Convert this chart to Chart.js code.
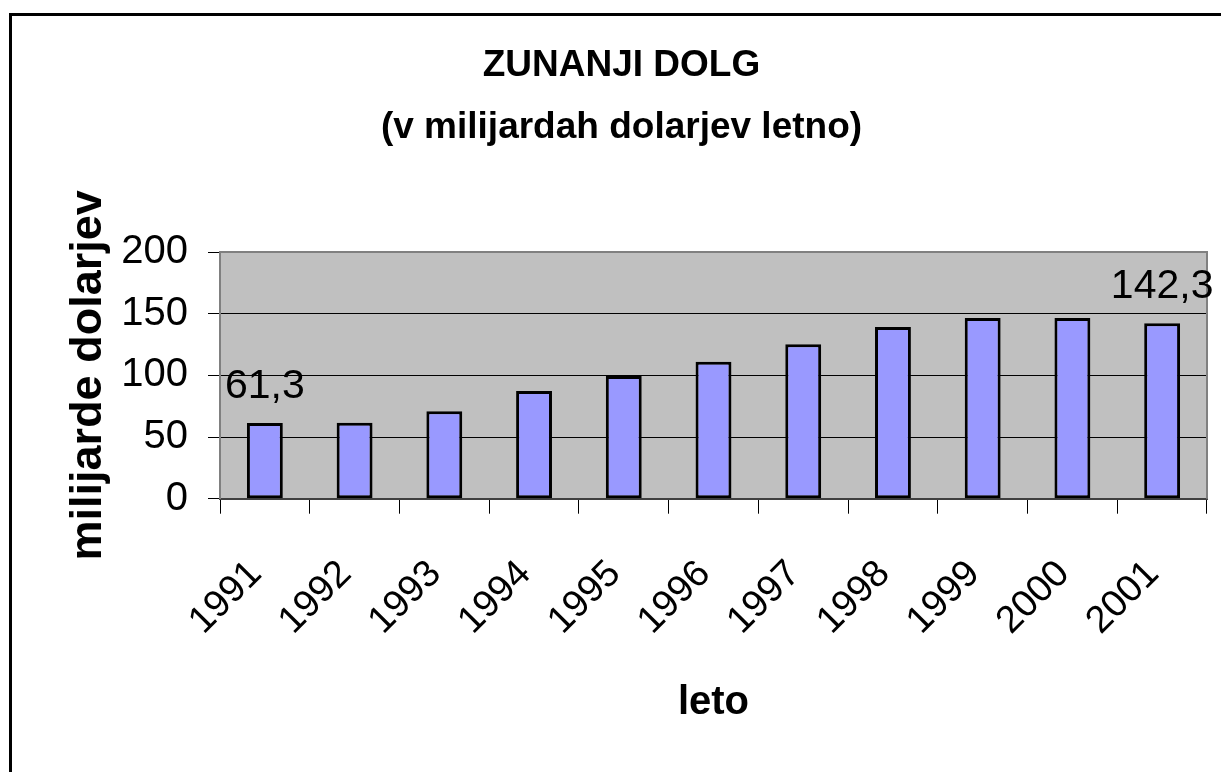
<!DOCTYPE html>
<html>
<head>
<meta charset="utf-8">
<script src="https://cdn.jsdelivr.net/npm/chart.js@4.4.1/dist/chart.umd.min.js"></script>
<style>
  html, body { margin: 0; padding: 0; background: #fff; overflow: hidden; }
  #frame { position: absolute; left: 9px; top: 13px; width: 1400px; height: 1000px; border: 3px solid #000; }
  #chart { position: absolute; left: 0; top: 0; }
</style>
</head>
<body>
<div id="frame"></div>
<canvas id="chart" width="1221" height="772"></canvas>
<script>
// podatki (odčitani s slike)
const years = ["1991", "1992", "1993", "1994", "1995", "1996", "1997", "1998", "1999", "2000", "2001"];
const debt = [61.3, 61.5, 70.9, 87.3, 99.5, 111.1, 125.2, 139.2, 146.5, 146.5, 142.3];
const labeledYears = ["1991", "2001"];
const yTicks = [0, 50, 100, 150, 200];
const titleLines = ["ZUNANJI DOLG", "(v milijardah dolarjev letno)"];
const yTitle = "milijarde dolarjev";
const xTitle = "leto";

const FONT = "'Liberation Sans', Arial, sans-serif";
const fmt = v => v.toFixed(1).replace(".", ",");

// sivo ozadje in okvir risalne površine
const plotArea = {
  id: "plotArea",
  beforeDraw(chart) {
    const { ctx, chartArea: a } = chart;
    ctx.save();
    ctx.fillStyle = "#c0c0c0";
    ctx.fillRect(a.left, a.top, a.width, a.height);
    ctx.restore();
  },
  beforeDatasetsDraw(chart) {
    const { ctx, chartArea: a } = chart;
    ctx.save();
    ctx.strokeStyle = "#808080";
    ctx.lineWidth = 2;
    ctx.beginPath();
    ctx.moveTo(a.left, a.top);
    ctx.lineTo(a.right, a.top);
    ctx.lineTo(a.right, a.bottom);
    ctx.stroke();
    ctx.restore();
  }
};

// oznake vrednosti nad prvim in zadnjim stolpcem
const valueLabels = {
  id: "valueLabels",
  afterDatasetsDraw(chart) {
    const { ctx } = chart;
    const meta = chart.getDatasetMeta(0);
    ctx.save();
    ctx.font = "41px " + FONT;
    ctx.fillStyle = "#000";
    ctx.textAlign = "center";
    ctx.textBaseline = "alphabetic";
    years.forEach((y, i) => {
      if (!labeledYears.includes(y)) return;
      const bar = meta.data[i];
      ctx.fillText(fmt(debt[i]), bar.x, bar.y - 25);
    });
    ctx.restore();
  }
};

new Chart(document.getElementById("chart"), {
  type: "bar",
  data: {
    labels: years,
    datasets: [{
      data: debt,
      backgroundColor: "#9999ff",
      borderColor: "#000",
      borderWidth: 3,
      borderSkipped: false,
      barPercentage: 0.4,
      categoryPercentage: 1
    }]
  },
  options: {
    responsive: false,
    animation: false,
    devicePixelRatio: 1,
    layout: { padding: { left: 36, right: 14, top: 0, bottom: 0 } },
    plugins: {
      legend: { display: false },
      tooltip: { enabled: false },
      title: {
        display: true,
        text: titleLines,
        color: "#000",
        font: { family: FONT, size: 37, weight: "bold", lineHeight: 62 / 37 },
        padding: { top: 35, bottom: 93 }
      }
    },
    scales: {
      x: {
        grid: {
          offset: true,
          drawOnChartArea: false,
          drawTicks: true,
          tickLength: 15,
          color: "#000",
          lineWidth: 1
        },
        border: { display: true, color: "#404040", width: 2 },
        ticks: {
          color: "#000",
          font: { family: FONT, size: 38 },
          minRotation: 45,
          maxRotation: 45,
          autoSkip: false,
          labelOffset: -9,
          padding: 38
        },
        title: {
          display: true,
          text: xTitle,
          color: "#000",
          font: { family: FONT, size: 40, weight: "bold" },
          padding: { top: 0, bottom: 45 }
        },
        afterFit(scale) {
          scale.height = 273.3;
          scale.paddingLeft = 0;
          scale.paddingRight = 0;
        }
      },
      y: {
        min: 0,
        max: 200,
        afterBuildTicks(scale) { scale.ticks = yTicks.map(v => ({ value: v })); },
        grid: {
          color: ctx => (ctx.tick && (ctx.tick.value === 0 || ctx.tick.value === 200)) ? "#808080" : "#000",
          tickColor: "#000",
          lineWidth: 1,
          tickLength: 12
        },
        border: { display: true, color: "#808080", width: 2 },
        ticks: {
          color: "#000",
          font: { family: FONT, size: 40 },
          padding: 20
        },
        title: {
          display: true,
          text: yTitle,
          color: "#000",
          font: { family: FONT, size: 45, weight: "bold" },
          padding: { top: 26, bottom: 0 }
        },
        afterFit(scale) { scale.width = 184; }
      }
    }
  },
  plugins: [plotArea, valueLabels]
});
</script>
</body>
</html>
